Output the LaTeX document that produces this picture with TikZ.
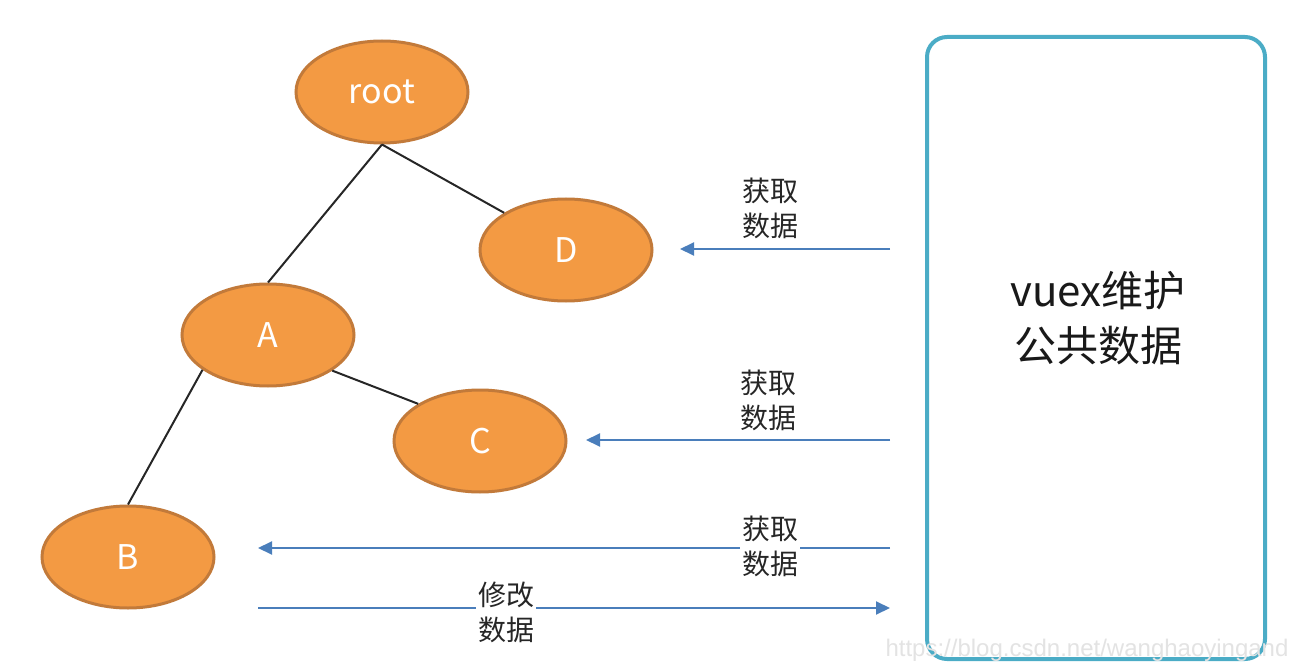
\documentclass[tikz,border=0pt]{standalone}
\usepackage{fontspec}
\setmainfont{Noto Sans CJK SC}
\newfontfamily\wmfont{Liberation Sans}
\usetikzlibrary{shapes.geometric,arrows.meta}
\definecolor{nodefill}{HTML}{F39A43}
\definecolor{nodeedge}{HTML}{C27A3A}
\definecolor{boxedge}{HTML}{4BACC6}
\definecolor{arrowblue}{HTML}{4A7EBB}
\definecolor{wmark}{HTML}{E3E3E3}
\tikzset{
  treenode/.style={ellipse, draw=nodeedge, line width=3pt, fill=nodefill,
    minimum width=172pt, minimum height=102pt, inner sep=0pt,
    text=white, font=\fontsize{34}{40}\selectfont},
  treeedge/.style={draw=black!85, line width=2pt},
  flow/.style={draw=arrowblue, line width=2pt,
    -{Triangle[length=14pt,width=13pt]}},
  flowlabel/.style={align=center, font=\fontsize{28}{35}\selectfont, inner sep=2pt, text=black!85},
  storebox/.style={draw=boxedge, line width=4pt, rounded corners=20pt, fill=white}
}
\begin{document}
\begin{tikzpicture}[x=1pt,y=-1pt]
\useasboundingbox (0,0) rectangle (1298,668);
% tree nodes
\node[treenode] (root) at (382,92) {root};
\node[treenode] (D) at (566,250) {D};
\node[treenode] (A) at (268,335) {A};
\node[treenode] (C) at (480,441) {C};
\node[treenode] (B) at (128,557) {B};
% store box
\node[storebox, minimum width=338pt, minimum height=622pt] (store) at (1096,348) {};
\node[align=center, font=\fontsize{42}{55}\selectfont, text=black!90] (storetext) at (1098,318) {vuex维护\\公共数据};
% tree edges
\draw[treeedge] (root.south) -- (A.north);
\draw[treeedge] (root.south) -- (D.149);
\draw[treeedge] (A.208) -- (B.north);
\draw[treeedge] (A.331) -- (C.149);
% arrow end points
\coordinate (sD) at (890,249);
\coordinate (eD) at (680,249);
\coordinate (sC) at (890,440);
\coordinate (eC) at (586,440);
\coordinate (sB) at (890,548);
\coordinate (eB) at (258,548);
\coordinate (mB) at (258,608);
\coordinate (mS) at (890,608);
% arrows
\draw[flow] (sD) -- (eD);
\node[flowlabel] (lD) at (770,208) {获取\\数据};
\draw[flow] (sC) -- (eC);
\node[flowlabel] (lC) at (768,400) {获取\\数据};
\draw[flow] (sB) -- (eB);
\node[flowlabel, fill=white] (lB) at (770,546) {获取\\数据};
\draw[flow] (mB) -- (mS);
\node[flowlabel, fill=white] (lM) at (506,612) {修改\\数据};
% watermark
\node[anchor=east, text=wmark, font=\fontsize{24}{26}\selectfont\wmfont] (wm) at (1292,650) {https://blog.csdn.net/wanghaoyingand};
\end{tikzpicture}
\end{document}
